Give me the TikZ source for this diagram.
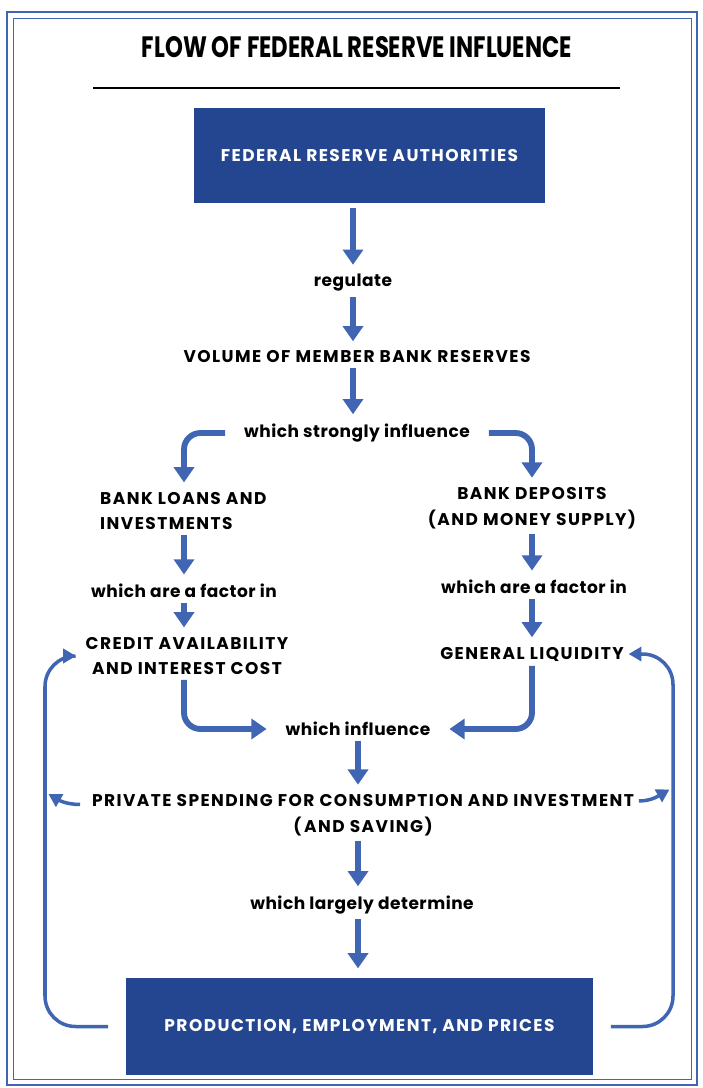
\documentclass[tikz,border=0pt]{standalone}
\usepackage{fontspec}
\setmainfont{Poppins}
\newfontfamily\capsfont{Poppins}[LetterSpace=8.5]
\newfontfamily\wordfont{Poppins}[LetterSpace=3]
\usepackage{graphicx}
\usetikzlibrary{arrows.meta}
\definecolor{fedblue}{HTML}{24458F}
\definecolor{arrowblue}{HTML}{4066B3}

\begin{document}
\begin{tikzpicture}[x=0.03cm,y=-0.03cm,
    lbl/.style={font=\capsfont\fontsize{14.5}{22}\selectfont\bfseries, align=center, inner sep=0pt},
    words/.style={lbl, font=\wordfont\fontsize{14.5}{22}\selectfont\bfseries},
    panel/.style={lbl, fill=fedblue, text=white},
    flow/.style={arrowblue, line width=5pt, -{Triangle[width=17pt,length=13pt]},
        shorten <=4pt, shorten >=8pt},
    elbow/.style={flow, rounded corners=14pt},
    feedback/.style={arrowblue, line width=3pt, rounded corners=26pt,
        -{Triangle[width=12pt,length=11pt]}}]
    \useasboundingbox (0,0) rectangle (703,1088);
    % frame
    \draw[arrowblue, line width=2.4pt] (7,12) rectangle (697,1085);
    \draw[arrowblue, line width=0.8pt] (13,18) rectangle (691,1079);
    % title and rule
    \node[inner sep=0pt] (title) at (357,47)
        {\resizebox{12.9cm}{0.63cm}{\bfseries FLOW OF FEDERAL RESERVE INFLUENCE}};
    \draw[line width=2.5pt] (93,88) -- (620,88);
    % boxes and labels
    \node[panel, minimum width=10.53cm, minimum height=2.85cm] (auth) at (369.5,155.5) {FEDERAL RESERVE AUTHORITIES};
    \node[words] (reg) at (353,283) {regulate};
    \node[lbl] (vol) at (357,357) {VOLUME OF MEMBER BANK RESERVES};
    \node[words] (strong) at (357,433) {which strongly influence};
    \node[lbl, align=left, anchor=west] (loans) at (100,511) {BANK LOANS AND\\INVESTMENTS};
    \node[lbl] (deps) at (532,508) {BANK DEPOSITS\\(AND MONEY SUPPLY)};
    \node[words] (facL) at (184,591) {which are a factor in};
    \node[words] (facR) at (534,587) {which are a factor in};
    \node[lbl] (credit) at (187,656) {CREDIT AVAILABILITY\\AND INTEREST COST};
    \node[lbl] (liq) at (532,654) {GENERAL LIQUIDITY};
    \node[words] (infl) at (358,729) {which influence};
    \node[lbl] (spend) at (363,815) {PRIVATE SPENDING FOR CONSUMPTION AND INVESTMENT\\(\,AND SAVING)};
    \node[words] (det) at (362,905) {which largely determine};
    \node[panel, minimum width=14.01cm, minimum height=2.91cm] (prod) at (359.5,1026.5) {PRODUCTION, EMPLOYMENT, AND PRICES};
    \coordinate (lbus) at (45,800);
    \coordinate (rbus) at (673,800);
    % main flow
    \draw[flow] (auth.south -| reg) -- (reg.north);
    \draw[flow] (reg.south) -- (reg |- vol.north);
    \draw[flow] (reg |- vol.south) -- (reg |- strong.north);
    \draw[elbow] ([xshift=-12pt]strong.west) -| (facL |- loans.north);
    \draw[elbow] ([xshift=12pt]strong.east) -| (deps.north);
    \draw[flow] (facL |- loans.south) -- (facL.north);
    \draw[flow] (deps.south) -- (deps |- facR.north);
    \draw[flow] (facL.south) -- (facL |- credit.north);
    \draw[flow] (deps |- facR.south) -- (liq.north);
    \draw[elbow] (facL |- credit.south) |- ([xshift=-8pt]infl.west);
    \draw[elbow] (liq.south) |- ([xshift=8pt]infl.east);
    \draw[flow] (infl.south) -- (infl |- spend.north);
    \draw[flow] (infl |- spend.south) -- (infl |- det.north);
    \draw[flow] (infl |- det.south) -- (infl |- prod.north);
    % feedback loops
    \draw[feedback] ([xshift=-15pt]prod.west) -| (lbus) |- ([xshift=-8pt]credit.west);
    \draw[feedback] ([xshift=15pt]prod.east) -| (rbus) |- ([xshift=4pt]liq.east);
    \draw[feedback, rounded corners=0pt] ([xshift=-10pt,yshift=9pt]spend.west)
        to[out=180,in=-30] ([xshift=3pt,yshift=5pt]lbus);
    \draw[feedback, rounded corners=0pt] ([xshift=4pt,yshift=12pt]spend.east)
        to[out=0,in=-150] ([xshift=-3pt,yshift=9pt]rbus);
\end{tikzpicture}
\end{document}
